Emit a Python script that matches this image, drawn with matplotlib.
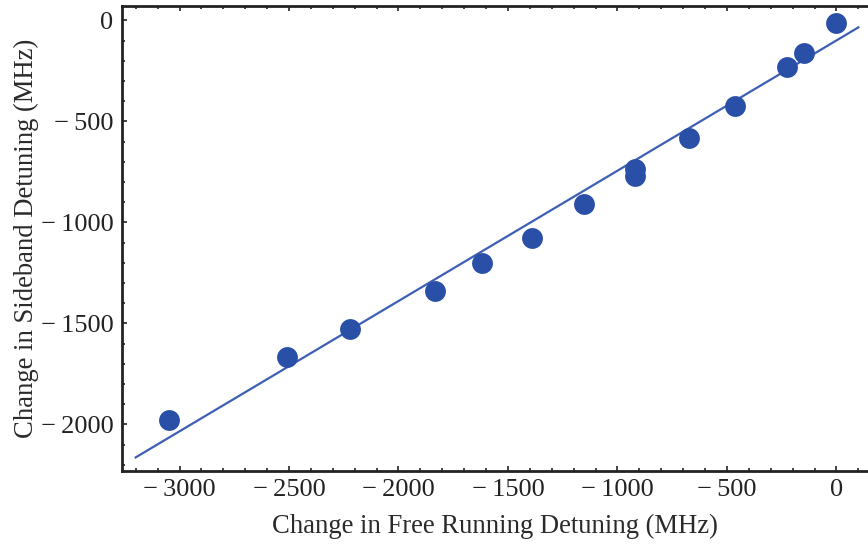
import numpy as np
import matplotlib
matplotlib.use("Agg")
import matplotlib.pyplot as plt
from matplotlib.ticker import MultipleLocator, FuncFormatter

free_running = [-3048, -2510, -2221, -1833, -1617, -1392, -1152, -919, -919,
                -672, -463, -225, -148, 0]
sideband = [-1976, -1666, -1527, -1338, -1200, -1075, -910, -737, -770,
            -583, -423, -229, -162, -11]
fit_range = [-3200, 100]
fit_slope = 0.645
fit_intercept = -99

x_ticks = [-3000, -2500, -2000, -1500, -1000, -500, 0]
y_ticks = [-2000, -1500, -1000, -500, 0]

plt.rcParams['font.family'] = ['Liberation Serif', 'DejaVu Serif']

fig = plt.figure(figsize=(8.68, 5.46), dpi=100)
ax = fig.add_axes([0.1402, 0.1379, 0.8598, 0.8517])

xf = np.array(fit_range)
ax.plot(xf, fit_slope * xf + fit_intercept, color='#3d5fb5', lw=1.6, zorder=2)
ax.plot(free_running, sideband, 'o', ms=15, color='#2a4fa6', mec='none', zorder=3)

ax.set_xlim(-3264, 144)
ax.set_ylim(-2229, 73)
ax.set_xticks(x_ticks)
ax.set_yticks(y_ticks)
ax.xaxis.set_minor_locator(MultipleLocator(100))
ax.yaxis.set_minor_locator(MultipleLocator(100))


def fmt(v, pos):
    v = int(round(v))
    return '\u2212\u2009' + str(-v) if v < 0 else str(v)


ax.xaxis.set_major_formatter(FuncFormatter(fmt))
ax.yaxis.set_major_formatter(FuncFormatter(fmt))
ax.tick_params(which='both', direction='in', top=True, right=False, width=1.2, colors='#222222')
ax.tick_params(which='major', length=3.5, labelsize=19, pad=6, labelcolor='#222222')
ax.tick_params(which='minor', length=2)
for s in ['left', 'bottom', 'top']:
    ax.spines[s].set_linewidth(2.0)
    ax.spines[s].set_color('#222222')
ax.spines['right'].set_visible(False)

ax.set_xlabel('Change in Free Running Detuning (MHz)', fontsize=19.2, color='#2a2a2a', labelpad=9)
ax.set_ylabel('Change in Sideband Detuning (MHz)', fontsize=19.2, color='#2a2a2a', labelpad=1)

fig.savefig('out.png', dpi=100)
